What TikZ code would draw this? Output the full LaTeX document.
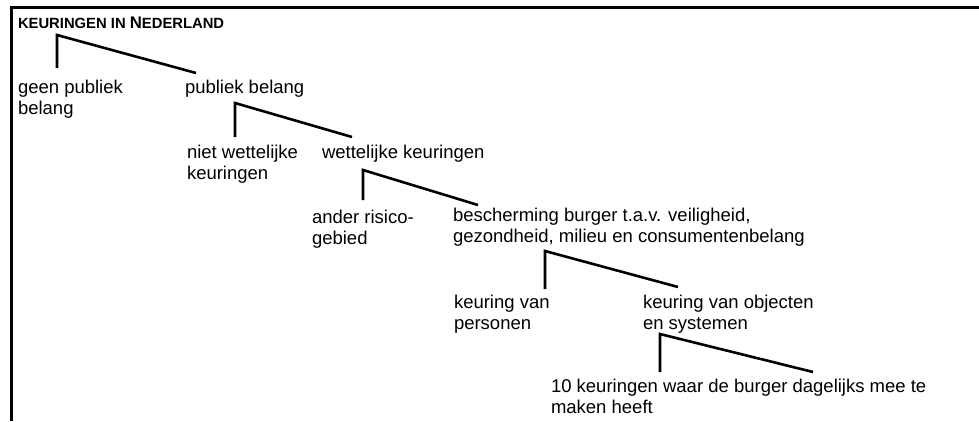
\documentclass[tikz,border=0pt]{standalone}
\usepackage{fontspec}
\setmainfont{Liberation Sans}
\begin{document}
\begin{tikzpicture}[x=1pt,y=-1pt,
  % two-line labels are placed by the baseline of their last line
  lbl/.style={anchor=base west, inner sep=0pt, outer sep=0pt, align=left,
              font=\fontsize{18.5}{21}\selectfont},
  branch/.style={line width=2.6pt, line join=miter},
  frame/.style={line width=2.8pt}]
\useasboundingbox (0,0) rectangle (979,421);

% open frame: top and left edge
\coordinate (fr-top) at (979,7.5);
\coordinate (fr-corner) at (11.5,7.5);
\coordinate (fr-bottom) at (11.5,421);
\draw[frame] (fr-top) -- (fr-corner) -- (fr-bottom);

% labels
\node[lbl, font=\bfseries\fontsize{14.8}{17}\selectfont] (root) at (18,28)
  {KEURINGEN IN {\fontsize{16.8}{17}\selectfont N}EDERLAND};
\node[lbl] (geen)  at (18,114)  {geen publiek\\belang};
\node[lbl] (pub)   at (185,93)  {publiek belang};
\node[lbl] (niet)  at (187,179) {niet wettelijke\\keuringen};
\node[lbl] (wet)   at (322,158) {wettelijke keuringen};
\node[lbl] (ander) at (312,244) {ander risico-\\gebied};
\node[lbl] (bur)   at (453,242) {bescherming burger t.a.v. veiligheid,\\gezondheid, milieu en consumentenbelang};
\node[lbl] (pers)  at (454,329) {keuring van\\personen};
\node[lbl] (obj)   at (643,329) {keuring van objecten\\en systemen};
\node[lbl] (tien)  at (551,413) {10 keuringen waar de burger dagelijks mee te\\maken heeft};

% branch points below each parent and line ends above the children
\coordinate (k1) at (57,35);   \coordinate (k1l) at (57,68);   \coordinate (k1r) at (196,73);
\coordinate (k2) at (235,103); \coordinate (k2l) at (235,137); \coordinate (k2r) at (352,137);
\coordinate (k3) at (363,170); \coordinate (k3l) at (363,200); \coordinate (k3r) at (478,205);
\coordinate (k4) at (545,251); \coordinate (k4l) at (545,289); \coordinate (k4r) at (678,287);
\coordinate (k5) at (660,334); \coordinate (k5l) at (660,372); \coordinate (k5r) at (813,372);

\draw[branch] (k1l) -- (k1) -- (k1r);
\draw[branch] (k2l) -- (k2) -- (k2r);
\draw[branch] (k3l) -- (k3) -- (k3r);
\draw[branch] (k4l) -- (k4) -- (k4r);
\draw[branch] (k5l) -- (k5) -- (k5r);
\end{tikzpicture}
\end{document}
